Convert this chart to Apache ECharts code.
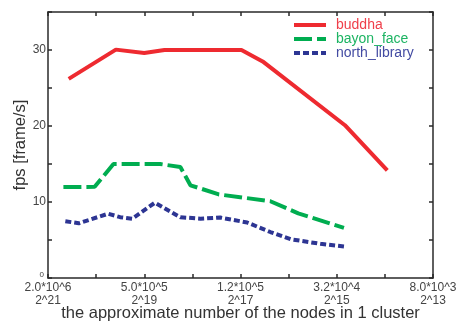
<!DOCTYPE html>
<html>
<head>
<meta charset="utf-8">
<script src="https://cdn.jsdelivr.net/npm/echarts@6/dist/echarts.min.js"></script>
<style>
html,body{margin:0;padding:0;background:#fff;}
#chart{width:462px;height:323px;}
</style>
</head>
<body>
<div id="chart"></div>
<script>
// x values are log2(number of nodes in 1 cluster)
var buddhaX = [20.57, 19.59, 19.0, 18.58, 16.98, 16.54, 14.83, 13.95];
var buddhaY = [26.2, 30.05, 29.6, 30.0, 30.0, 28.5, 20.1, 14.15];

var bayonX = [20.68, 20.03, 19.64, 18.67, 18.25, 18.04, 17.45, 16.38, 15.8, 14.85];
var bayonY = [11.96, 12.0, 15.0, 15.0, 14.6, 12.2, 11.0, 10.1, 8.5, 6.6];

var northX = [20.64, 20.36, 19.75, 19.5, 19.25, 18.78, 18.25, 17.83, 17.42, 16.86, 16.38, 15.96, 15.34, 14.85];
var northY = [7.47, 7.2, 8.46, 8.0, 7.8, 9.9, 8.0, 7.8, 7.95, 7.3, 6.05, 5.1, 4.5, 4.15];

var xTickExp = [21, 19, 17, 15, 13];
var xTickNodes = ['2.0*10^6', '5.0*10^5', '1.2*10^5', '3.2*10^4', '8.0*10^3'];
var xTickPow = ['2^21', '2^19', '2^17', '2^15', '2^13'];
var yTickLabels = [0, 10, 20, 30];

var seriesNames = ['buddha', 'bayon_face', 'north_library'];
var colors = ['#ee2a30', '#00ad50', '#2d3593'];
var textColors = ['#ef3f4a', '#1db463', '#434ba2'];

function pairs(xs, ys) { return xs.map(function (x, i) { return [x, ys[i]]; }); }

var FONT = 'Liberation Sans';
var axisLineStyle = { color: '#2a2a2a', width: 1.5 };

var chart = echarts.init(document.getElementById('chart'), null, { renderer: 'canvas' });
chart.setOption({
  animation: false,
  backgroundColor: '#fff',
  textStyle: { fontFamily: FONT },
  grid: { left: 48, right: 29, top: 12, bottom: 45, containLabel: false, outerBoundsMode: 'none' },
  legend: {
    orient: 'vertical',
    left: 287,
    top: 13,
    itemWidth: 32,
    itemHeight: 14,
    itemGap: 0,
    itemStyle: { opacity: 0 },
    lineStyle: { width: 4 },
    textStyle: { fontFamily: FONT, fontSize: 14, padding: [0, 0, 0, 5] },
    data: seriesNames.map(function (n, i) { return { name: n, textStyle: { color: textColors[i] } }; })
  },
  xAxis: [{
    type: 'value', min: 13, max: 21, interval: 1, inverse: true,
    name: 'the approximate number of the nodes in 1 cluster',
    nameLocation: 'middle', nameGap: 27, nameMoveOverlap: false,
    nameTextStyle: { fontFamily: FONT, fontSize: 16.5, color: '#333' },
    axisLine: { show: true, onZero: false, lineStyle: axisLineStyle },
    axisTick: { show: true, inside: true, length: 4, lineStyle: axisLineStyle },
    splitLine: { show: false },
    axisLabel: {
      fontFamily: FONT, fontSize: 12, color: '#444', margin: 3, lineHeight: 13,
      showMinLabel: true, showMaxLabel: true,
      formatter: function (v) {
        var k = xTickExp.indexOf(Math.round(v));
        if (k < 0 || Math.abs(v - Math.round(v)) > 1e-6) return '';
        return xTickNodes[k] + '\n' + xTickPow[k];
      }
    }
  }, {
    type: 'value', min: 13, max: 21, interval: 1, inverse: true, position: 'top',
    axisLine: { show: true, onZero: false, lineStyle: axisLineStyle },
    axisTick: { show: true, inside: true, length: 4, lineStyle: axisLineStyle },
    axisLabel: { show: false }, splitLine: { show: false }
  }],
  yAxis: [{
    type: 'value', min: 0, max: 35, interval: 5,
    name: 'fps [frame/s]', nameLocation: 'middle', nameGap: 19, nameMoveOverlap: false,
    nameTextStyle: { fontFamily: FONT, fontSize: 16.5, color: '#333' },
    axisLine: { show: true, onZero: false, lineStyle: axisLineStyle },
    axisTick: { show: true, inside: true, length: 4, lineStyle: axisLineStyle },
    splitLine: { show: false },
    axisLabel: {
      fontFamily: FONT, fontSize: 12, color: '#444', margin: 2,
      formatter: function (v) {
        if (yTickLabels.indexOf(v) < 0) return '';
        if (v === 0) return '{s|0}';
        return String(v);
      },
      rich: { s: { fontSize: 8, color: '#444', padding: [0, 2, 6, 0] } }
    }
  }, {
    type: 'value', min: 0, max: 35, interval: 5, position: 'right',
    axisLine: { show: true, onZero: false, lineStyle: axisLineStyle },
    axisTick: { show: true, inside: true, length: 4, lineStyle: axisLineStyle },
    axisLabel: { show: false }, splitLine: { show: false }
  }],
  series: [{
    name: seriesNames[0], type: 'line', symbol: 'none', data: pairs(buddhaX, buddhaY),
    color: colors[0],
    lineStyle: { color: colors[0], width: 4, type: 'solid' }
  }, {
    name: seriesNames[1], type: 'line', symbol: 'none', data: pairs(bayonX, bayonY),
    color: colors[1],
    lineStyle: { color: colors[1], width: 4, type: [18, 5] }
  }, {
    name: seriesNames[2], type: 'line', symbol: 'none', data: pairs(northX, northY),
    color: colors[2],
    lineStyle: { color: colors[2], width: 4, type: [6, 3] }
  }]
});
</script>
</body>
</html>
